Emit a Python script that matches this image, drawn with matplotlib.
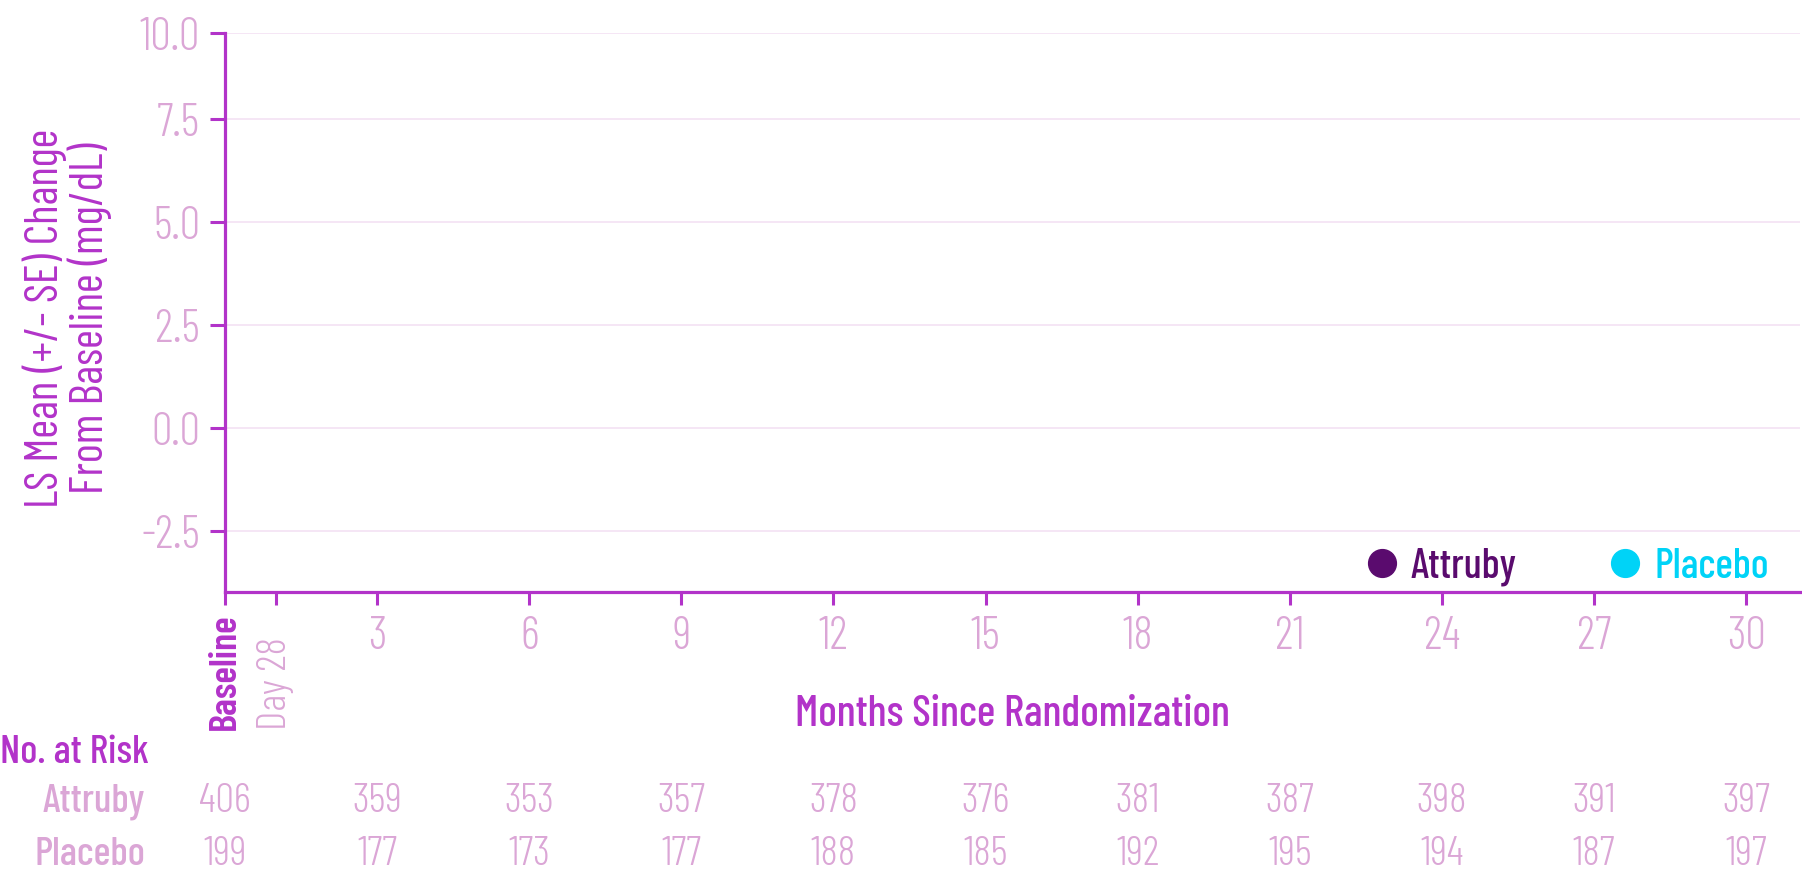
import matplotlib
matplotlib.use("Agg")
import matplotlib.pyplot as plt
from matplotlib.lines import Line2D
import matplotlib.transforms as mtransforms

plt.rcParams["font.family"] = ["Barlow Condensed", "DejaVu Sans"]
plt.rcParams["axes.unicode_minus"] = False

# Data
month_ticks = [3, 6, 9, 12, 15, 18, 21, 24, 27, 30]
risk_months = [0, 3, 6, 9, 12, 15, 18, 21, 24, 27, 30]
attruby_at_risk = [406, 359, 353, 357, 378, 376, 381, 387, 398, 391, 397]
placebo_at_risk = [199, 177, 173, 177, 188, 185, 192, 195, 194, 187, 197]
y_ticks = [-2.5, 0.0, 2.5, 5.0, 7.5]
y_tick_labels = ["-2.5", "0.0", "2.5", "5.0", "7.5", "10.0"]
groups = ["Attruby", "Placebo"]

# Colours
PURPLE = "#b233c9"
PINK = "#dba6d6"
GRID = "#f3e2f3"
DARK = "#5a0b6e"
CYAN = "#00d3f7"

fig = plt.figure(figsize=(18.02, 8.74), dpi=100)
ax = fig.add_axes([225 / 1802, 1 - 592 / 874, 1575 / 1802, 559 / 874])

ax.set_xlim(0, 31.06)
# the original axis stops short of 10 but its top tick is labelled 10.0
ax.set_ylim(-3.98, 9.59)

# Spines
for side in ["top", "right"]:
    ax.spines[side].set_visible(False)
for side in ["left", "bottom"]:
    ax.spines[side].set_color(PURPLE)
    ax.spines[side].set_linewidth(2.3)

# Y axis
ax.set_yticks(y_ticks + [ax.get_ylim()[1]])
ax.set_yticklabels(y_tick_labels)
ax.tick_params(axis="y", colors=PURPLE, labelcolor=PINK, length=11, width=2.2,
               pad=7, labelsize=33)
for lbl in ax.get_yticklabels():
    lbl.set_fontweight(300)
ax.grid(axis="y", color=GRID, linewidth=1.2)
ax.set_axisbelow(True)

ax.set_ylabel("LS Mean (+/- SE) Change\nFrom Baseline (mg/dL)", color=PURPLE,
              fontsize=33, fontweight=400, linespacing=1.0)
ax.yaxis.label.set_va("center")
ax.yaxis.set_label_coords(-0.1, 0.49)

# X axis
day28 = 1.0
ax.set_xticks([0, day28] + month_ticks)
ax.set_xticklabels(["", ""] + [str(m) for m in month_ticks])
ax.tick_params(axis="x", colors=PURPLE, labelcolor=PINK, length=9, width=2.2,
               pad=8, labelsize=33)
for lbl in ax.get_xticklabels():
    lbl.set_fontweight(300)

trans_x = mtransforms.blended_transform_factory(ax.transData, ax.transAxes)
ax.text(0, -0.2469, "Baseline", transform=trans_x, rotation=90, ha="center",
        va="bottom", color=PURPLE, fontsize=28, fontweight=600)
ax.text(day28, -0.2469, "Day 28", transform=trans_x, rotation=90, ha="center",
        va="bottom", color=PINK, fontsize=30, fontweight=300)

ax.set_xlabel("Months Since Randomization", color=PURPLE, fontsize=31.5, fontweight=500)
ax.xaxis.label.set_va("center")
ax.xaxis.set_label_coords(0.5, -0.22)

# Legend
handles = [
    Line2D([], [], marker="o", linestyle="none", markersize=20, color=DARK),
    Line2D([], [], marker="o", linestyle="none", markersize=20, color=CYAN),
]
leg = ax.legend(handles, groups, ncol=2, frameon=False, fontsize=30,
                loc="center left", bbox_to_anchor=(1369 / 1802, 1 - 567 / 874),
                bbox_transform=fig.transFigure, borderpad=0, borderaxespad=0,
                handlelength=0.6, handletextpad=0.4, columnspacing=2.3,
                labelcolor=[DARK, CYAN])
for t in leg.get_texts():
    t.set_fontweight(500)

# Number at risk table
trans_risk = mtransforms.blended_transform_factory(ax.transData, fig.transFigure)
fig.text(0.0, 1 - 763 / 874, "No. at Risk", color=PURPLE, fontsize=29,
         fontweight=500, ha="left", va="baseline")
rows = [(attruby_at_risk, 1 - 812 / 874), (placebo_at_risk, 1 - 865 / 874)]
for name, (counts, yb) in zip(groups, rows):
    fig.text(145 / 1802, yb, name, color=PINK, fontsize=29, fontweight=500,
             ha="right", va="baseline")
    for m, n in zip(risk_months, counts):
        ax.text(m, yb, str(n), transform=trans_risk, color=PINK, fontsize=30,
                fontweight=300, ha="center", va="baseline", clip_on=False)

fig.savefig("out.png", dpi=100)
